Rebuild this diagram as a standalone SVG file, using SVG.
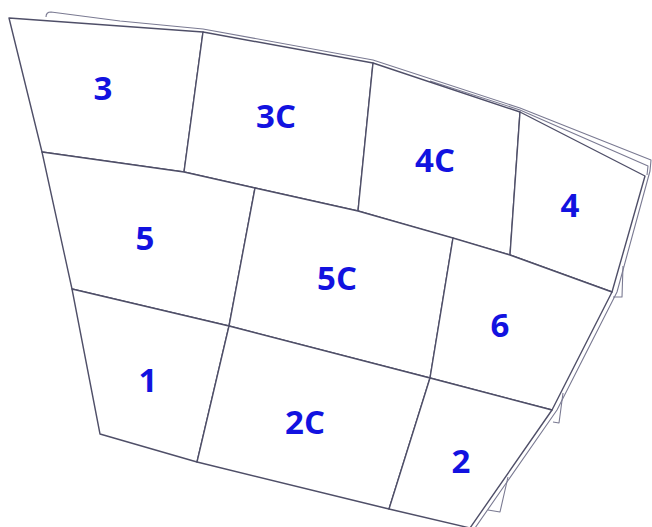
<svg xmlns="http://www.w3.org/2000/svg" width="652" height="527" viewBox="0 0 652 527">
<style>
.cell{fill:#ffffff;stroke:#4f4f68;stroke-width:1.4;stroke-linejoin:round}
.lbl{font-family:"Open Sans","Liberation Sans",sans-serif;font-weight:bold;font-size:33px;fill:#1212e0;text-anchor:middle}
.layer{fill:none;stroke:#7a7a92;stroke-width:1.1;stroke-linejoin:round}
</style>
<rect width="652" height="527" fill="#ffffff"/>
<g id="edges">
<path class="layer" d="M46,17 Q46,12 51,12 L120,21 L203,29 L373,60 L520,108 L651,160 L650,171 L617,292 L557,410 L475,528"/>
<path class="layer" d="M430,81 L520,110 L648,166 L647,175"/>
<path class="layer" d="M613,297 L622,297 L623,266"/>
<path class="layer" d="M553,422 L559,423 L563,393"/>
<path class="layer" d="M488,510 L500,512 L508,477"/>
</g>
<g id="cell-3"><polygon class="cell" points="9,18 203,32 184,172 42,152"/><text class="lbl" x="103" y="100">3</text></g>
<g id="cell-3C"><polygon class="cell" points="203,32 373,63 358,211 184,172"/><text class="lbl" x="276" y="128">3C</text></g>
<g id="cell-4C"><polygon class="cell" points="373,63 520,112 510,255 358,211"/><text class="lbl" x="435" y="172">4C</text></g>
<g id="cell-4"><polygon class="cell" points="520,112 645,176 612,292 510,255"/><text class="lbl" x="570" y="217">4</text></g>
<g id="cell-5"><polygon class="cell" points="42,152 184,172 255,188 229,326 72,289"/><text class="lbl" x="145" y="250">5</text></g>
<g id="cell-5C"><polygon class="cell" points="255,188 358,211 453,238 430,378 229,326"/><text class="lbl" x="337" y="290">5C</text></g>
<g id="cell-6"><polygon class="cell" points="453,238 510,255 612,292 552,410 430,378"/><text class="lbl" x="500" y="337">6</text></g>
<g id="cell-1"><polygon class="cell" points="72,289 229,326 197,462 100,434"/><text class="lbl" x="148" y="392">1</text></g>
<g id="cell-2C"><polygon class="cell" points="229,326 430,378 389,509 197,462"/><text class="lbl" x="305" y="434">2C</text></g>
<g id="cell-2"><polygon class="cell" points="430,378 552,410 470,528 389,509"/><text class="lbl" x="461" y="473">2</text></g>
</svg>
